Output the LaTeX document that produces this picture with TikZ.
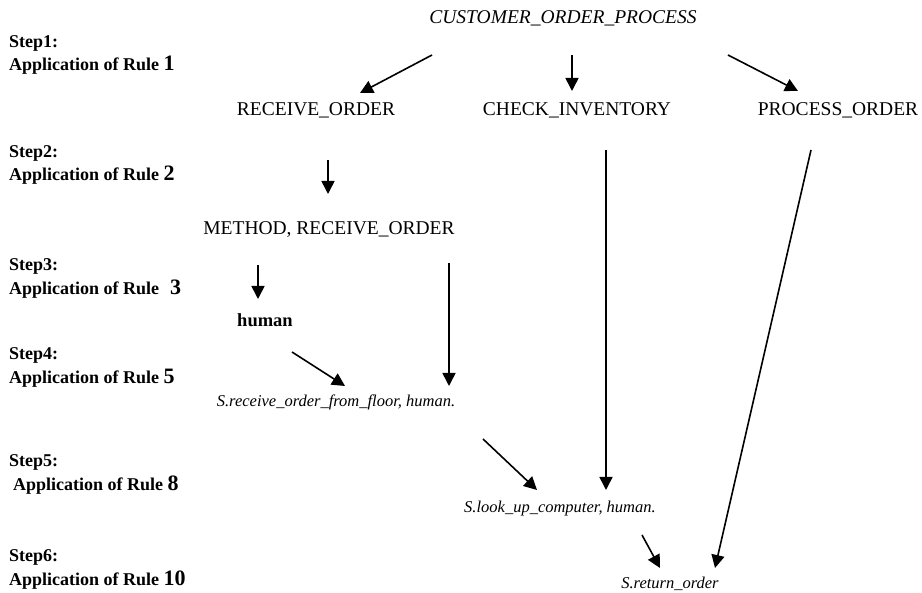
\documentclass[tikz,border=0pt]{standalone}
\usepackage{fontspec}
\setmainfont{Liberation Serif}
\usetikzlibrary{arrows.meta}
\newcommand\rulenum[1]{{\fontsize{22}{22}\selectfont #1}}
\begin{document}
\begin{tikzpicture}[x=1pt,y=-1pt,
  lbl/.style={anchor=west,inner sep=0pt,font=\fontsize{18}{18}\selectfont\bfseries},
  caps/.style={inner sep=0pt,font=\fontsize{19.5}{19.5}\selectfont},
  ital/.style={inner sep=0pt,font=\fontsize{16.5}{16.5}\selectfont\itshape},
  arr/.style={line width=1.6pt,-{Triangle[length=13pt,width=13pt]}}]
\useasboundingbox (0,0) rectangle (922,593);
\clip (0,0) rectangle (922,593);
% step labels
\node[lbl] (s1) at (9,43) {Step1:};
\node[lbl] (a1) at (9,65) {Application of Rule \rulenum{1}};
\node[lbl] (s2) at (9,153) {Step2:};
\node[lbl] (a2) at (9,175) {Application of Rule \rulenum{2}};
\node[lbl] (s3) at (9,266) {Step3:};
\node[lbl] (a3) at (9,289) {Application of Rule\hspace{0.6em}\rulenum{3}};
\node[lbl] (s4) at (9,355) {Step4:};
\node[lbl] (a4) at (9,378) {Application of Rule \rulenum{5}};
\node[lbl] (s5) at (9,462) {Step5:};
\node[lbl] (a5) at (13,485) {Application of Rule \rulenum{8}};
\node[lbl] (s6) at (9,557) {Step6:};
\node[lbl] (a6) at (9,580) {Application of Rule \rulenum{10}};
% tree nodes
\node[caps,font=\fontsize{19.5}{19.5}\selectfont\itshape] (cop) at (563,18) {CUSTOMER\_ORDER\_PROCESS};
\node[caps] (ro) at (316,110) {RECEIVE\_ORDER};
\node[caps] (ci) at (577,110) {CHECK\_INVENTORY};
\node[caps] (po) at (838,110) {PROCESS\_ORDER};
\node[caps] (mro) at (329,230) {METHOD, RECEIVE\_ORDER};
\node[inner sep=0pt,font=\fontsize{18.5}{18.5}\selectfont\bfseries] (hu) at (265,320) {human};
\node[ital] (srf) at (336,402) {S.receive\_order\_from\_floor, human.};
\node[ital] (slc) at (560,509) {S.look\_up\_computer, human.};
\node[ital] (sro) at (670,584) {S.return\_order};
% connector end points
\coordinate (c1) at (432,55);  \coordinate (r1) at (360,93);
\coordinate (c2) at (572,55);  \coordinate (i1) at (572,91);
\coordinate (c3) at (728,55);  \coordinate (p1) at (798,91);
\coordinate (r2) at (328,160); \coordinate (m1) at (328,194);
\coordinate (m2) at (258,265); \coordinate (h1) at (258,299);
\coordinate (m3) at (449,263); \coordinate (f1) at (449,386);
\coordinate (h2) at (292,352); \coordinate (f2) at (345,386);
\coordinate (i2) at (606,150); \coordinate (l1) at (606,490);
\coordinate (p2) at (811,150); \coordinate (t1) at (715,568);
\coordinate (f3) at (483,439); \coordinate (l2) at (537,490);
\coordinate (l3) at (642,535); \coordinate (t2) at (660,568);
\draw[arr] (c1) -- (r1);
\draw[arr] (c2) -- (i1);
\draw[arr] (c3) -- (p1);
\draw[arr] (r2) -- (m1);
\draw[arr] (m2) -- (h1);
\draw[arr] (m3) -- (f1);
\draw[arr] (h2) -- (f2);
\draw[arr] (i2) -- (l1);
\draw[arr] (p2) -- (t1);
\draw[arr] (f3) -- (l2);
\draw[arr] (l3) -- (t2);
\end{tikzpicture}
\end{document}
